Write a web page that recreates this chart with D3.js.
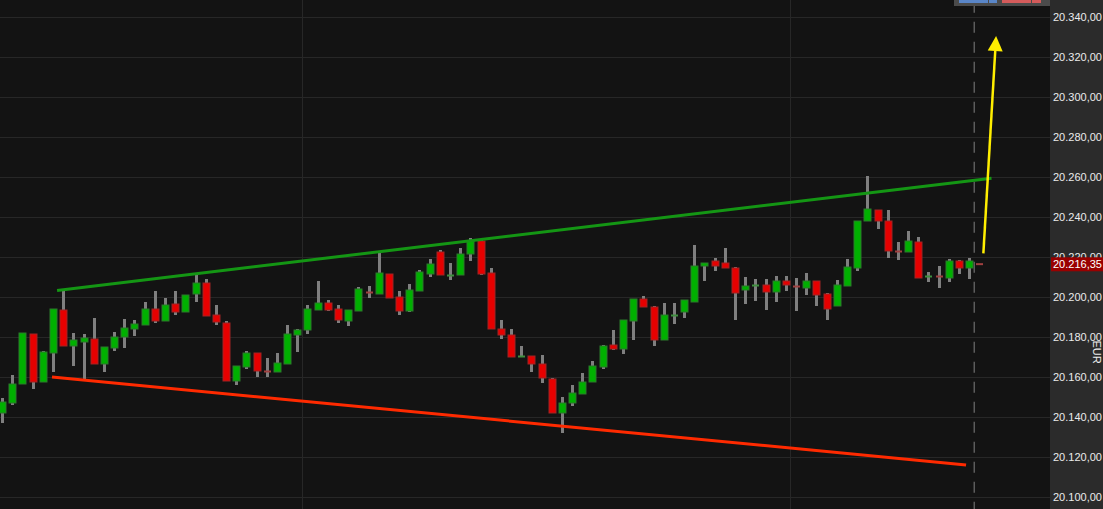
<!DOCTYPE html>
<html>
<head>
<meta charset="utf-8">
<script src="https://cdn.jsdelivr.net/npm/d3@7"></script>
<style>
  html, body { margin: 0; padding: 0; background: #131313; overflow: hidden; }
  svg { display: block; }
  text { font-family: "Liberation Sans", Arial, sans-serif; }
</style>
</head>
<body>
<svg id="chart" width="1103" height="509"></svg>
<script>
// ---- data (index-based candles, EUR) ----
const opens  = [20142,20147,20156.5,20181.5,20157.5,20172,20193.5,20175.5,20177.5,20179,20166.5,20174.5,20180,20184,20186,20194,20188,20196.5,20192.5,20201.5,20207,20191,20187,20158,20165,20172,20163,20162.5,20166.5,20181,20183.5,20193.5,20197,20194,20188,20193,20202.5,20201.5,20211.5,20200,20193,20203,20211.5,20222.5,20210.5,20211,20221.5,20228,20212,20184,20181,20170,20170.5,20166.5,20159,20142,20147,20151.5,20157.5,20165,20176,20174,20188,20199,20195,20178.5,20190.5,20192.5,20197.5,20215.5,20218,20217,20214.5,20203.5,20205.5,20206,20202.5,20208,20205.5,20204.5,20208,20201.5,20195.5,20205.5,20214.5,20238,20243.5,20238,20223,20222.5,20227.5,20210,20210.5,20209.5,20218,20214.5,20216.5];
const highs  = [20149.5,20161,20182,20181.5,20173,20194,20203,20182,20181.5,20189.5,20175,20182.5,20189,20188.5,20197.5,20203,20199.5,20203,20201,20211,20209,20196,20188,20165.5,20173,20172,20169.5,20172,20186,20184,20196,20208,20198.5,20196,20193.5,20205,20205.5,20222.5,20211.5,20203,20206.5,20213.5,20219,20223.5,20217,20224.5,20229.5,20228.5,20214.5,20188.5,20184,20175.5,20170.5,20171,20159.5,20150,20156,20162,20168,20176,20183.5,20188.5,20199,20200.5,20195.5,20197,20197,20198.5,20226,20217,20219.5,20224.5,20215,20210,20209,20209,20210.5,20210.5,20209.5,20212,20208,20202,20208.5,20219,20238,20260.5,20243.5,20243.5,20227.5,20233,20230,20212.5,20215.5,20219,20218.5,20219.5,20216.5];
const lows   = [20137,20146,20156.5,20154,20157.5,20162.5,20175.5,20165.5,20158.5,20166.5,20162.5,20173,20174.5,20180.5,20186,20187,20188,20191,20192.5,20197.5,20190.5,20186,20158,20156,20164,20160,20160,20162.5,20166.5,20172.5,20181.5,20193.5,20193,20187,20185.5,20193,20199.5,20201.5,20199.5,20191,20192.5,20203,20210,20211,20208.5,20211,20218,20211,20184,20179,20170,20170,20162.5,20157,20142,20132,20145.5,20151.5,20157.5,20164,20173.5,20171.5,20178.5,20195,20175.5,20178.5,20186.5,20189.5,20197.5,20208,20213,20214.5,20188.5,20196.5,20198,20193.5,20197.5,20203,20193,20201,20195.5,20188.5,20195.5,20205.5,20213,20238,20234,20219.5,20218.5,20222.5,20209.5,20207.5,20204.5,20207.5,20211.5,20209,20216.35];
const closes = [20147.5,20156.5,20182,20157.5,20172.5,20194,20175.5,20178.5,20179.5,20166.5,20175,20180,20184.5,20186.5,20194,20188,20196,20192.5,20201,20207,20190.5,20187.5,20158,20165.5,20172,20163,20162.5,20167,20181.5,20183.5,20194,20197,20193.5,20188.5,20193.5,20204,20202,20212,20199.5,20193,20203.5,20212.5,20216.5,20211,20211,20221.5,20228,20211.5,20184,20181,20170,20170.5,20166.5,20159.5,20142,20147,20152,20157.5,20165.5,20175.5,20174,20188.5,20199,20195,20178.5,20191,20191,20198.5,20215.5,20217,20215.5,20214.5,20202,20205.5,20206,20202.5,20208,20206,20205,20208,20201,20194,20206,20215,20238,20244,20238,20223,20222.5,20228,20209.5,20210.5,20210,20218,20214.5,20218,20216.35];

const yTicks = [20100,20120,20140,20160,20180,20200,20220,20240,20260,20280,20300,20320,20340];
const lastPrice = 20216.35;
const timeGridIdx = [29.45, 77.4];
const sessionEndIdx = 95.5;
const upperTrend = [[5.4, 20203.3], [97.2, 20259.4]];
const lowerTrend = [[4.9, 20160], [94.7, 20116]];
const arrowPath = [[96.4, 20221.8], [97.65, 20330.5]];

// ---- layout ----
const W = 1103, H = 509, plotRight = 1050;
const svg = d3.select("#chart");
const x = d3.scaleLinear().domain([1, 96]).range([12.3, 979.3]);
const y = d3.scaleLinear().domain([20100, 20340]).range([497, 17]);

const loc = d3.formatLocale({decimal: ",", thousands: ".", grouping: [3], currency: ["", ""]});
const fmt = loc.format(",.2f");

svg.append("rect").attr("width", W).attr("height", H).attr("fill", "#131313");

svg.append("defs").append("clipPath").attr("id", "plotClip")
  .append("rect").attr("x", 0).attr("y", 0).attr("width", plotRight).attr("height", H);

const plot = svg.append("g").attr("clip-path", "url(#plotClip)");

// gridlines
plot.append("g").selectAll("line").data(yTicks).join("line")
  .attr("x1", 0).attr("x2", plotRight)
  .attr("y1", d => Math.round(y(d)) + 0.5).attr("y2", d => Math.round(y(d)) + 0.5)
  .attr("stroke", "#272727").attr("stroke-width", 1);
plot.append("g").selectAll("line").data(timeGridIdx).join("line")
  .attr("x1", d => Math.round(x(d)) + 0.5).attr("x2", d => Math.round(x(d)) + 0.5)
  .attr("y1", 0).attr("y2", H)
  .attr("stroke", "#272727").attr("stroke-width", 1);

// session dashed line
plot.append("line")
  .attr("x1", x(sessionEndIdx)).attr("x2", x(sessionEndIdx))
  .attr("y1", 1.7).attr("y2", H)
  .attr("stroke", "#6e6e6e").attr("stroke-width", 1.2)
  .attr("stroke-dasharray", "11,9");

// candles
const candles = opens.map((o, i) => ({i, o, h: highs[i], l: lows[i], c: closes[i]}));
const cg = plot.append("g");
cg.selectAll("line.wick").data(candles).join("line").attr("class", "wick")
  .attr("x1", d => Math.round(x(d.i)) + 0.5).attr("x2", d => Math.round(x(d.i)) + 0.5)
  .attr("y1", d => y(d.h)).attr("y2", d => y(d.l))
  .attr("stroke", "#7f7f7f").attr("stroke-width", 3);

cg.selectAll("rect.body").data(candles).join("rect").attr("class", "body")
  .attr("x", d => Math.round(x(d.i)) - 3)
  .attr("width", 7)
  .each(function(d) {
    const top = y(Math.max(d.o, d.c)), bot = y(Math.min(d.o, d.c));
    const up = d.c >= d.o;
    const sel = d3.select(this);
    if (bot - top < 2) {
      const mid = (top + bot) / 2;
      sel.attr("y", mid - 1).attr("height", 2)
        .attr("fill", up ? "#3f8f3f" : "#a04040").attr("stroke", "none");
    } else {
      sel.attr("y", top).attr("height", bot - top)
        .attr("fill", up ? "#00b000" : "#e60000")
        .attr("stroke", up ? "#2c7a2c" : "#a02525").attr("stroke-width", 1);
    }
  });

// trend lines
const line = d3.line().x(d => x(d[0])).y(d => y(d[1]));
plot.append("path").attr("d", line(upperTrend)).attr("stroke", "#149614").attr("stroke-width", 3).attr("fill", "none");
plot.append("path").attr("d", line(lowerTrend)).attr("stroke", "#ff2a00").attr("stroke-width", 3).attr("fill", "none");

// yellow arrow
const a0 = arrowPath[0], a1 = arrowPath[1];
const ax0 = x(a0[0]), ay0 = y(a0[1]), ax1 = x(a1[0]), ay1 = y(a1[1]);
const ang = Math.atan2(ay1 - ay0, ax1 - ax0);
const headLen = 15, headW = 7.5;
const bx = ax1 - headLen * Math.cos(ang), by = ay1 - headLen * Math.sin(ang);
plot.append("line").attr("x1", ax0).attr("y1", ay0).attr("x2", bx).attr("y2", by)
  .attr("stroke", "#ffee00").attr("stroke-width", 2.5);
plot.append("path")
  .attr("d", `M${ax1},${ay1} L${bx + headW * Math.sin(ang)},${by - headW * Math.cos(ang)} L${bx - headW * Math.sin(ang)},${by + headW * Math.cos(ang)} Z`)
  .attr("fill", "#ffee00");

// top toolbar
const tb = svg.append("g");
tb.append("rect").attr("x", 954).attr("y", -2).attr("width", 96).attr("height", 8).attr("fill", "#4b4b4b");
tb.append("rect").attr("x", 959).attr("y", -2).attr("width", 29).attr("height", 5).attr("fill", "#5a86c8");
tb.append("rect").attr("x", 989).attr("y", -2).attr("width", 8).attr("height", 5).attr("fill", "#5a86c8");
tb.append("rect").attr("x", 1002).attr("y", -2).attr("width", 29).attr("height", 5).attr("fill", "#d45b5b");
tb.append("rect").attr("x", 1032).attr("y", -2).attr("width", 9).attr("height", 5).attr("fill", "#d45b5b");

// axis panel
svg.append("rect").attr("x", plotRight).attr("y", 0).attr("width", W - plotRight).attr("height", H).attr("fill", "#2b2b2b");
const axisG = svg.append("g").attr("transform", `translate(${plotRight},0)`)
  .call(d3.axisRight(y).tickValues(yTicks).tickFormat(fmt).tickSize(0).tickPadding(3));
axisG.select(".domain").remove();
axisG.selectAll("text").attr("fill", "#ececec").attr("font-size", 11)
  .attr("font-family", "Liberation Sans, Arial, sans-serif");

// last price tag
svg.append("rect").attr("x", 1051).attr("y", y(lastPrice) - 7).attr("width", 52).attr("height", 14).attr("fill", "#990000");
svg.append("text").attr("x", 1053).attr("y", y(lastPrice)).attr("dy", "0.35em")
  .attr("fill", "#ffffff").attr("font-size", 11).text(fmt(lastPrice));

// currency label
svg.append("text").attr("transform", "translate(1093,352) rotate(90)")
  .attr("text-anchor", "middle").attr("fill", "#ececec").attr("font-size", 11).text("EUR");
</script>
</body>
</html>
